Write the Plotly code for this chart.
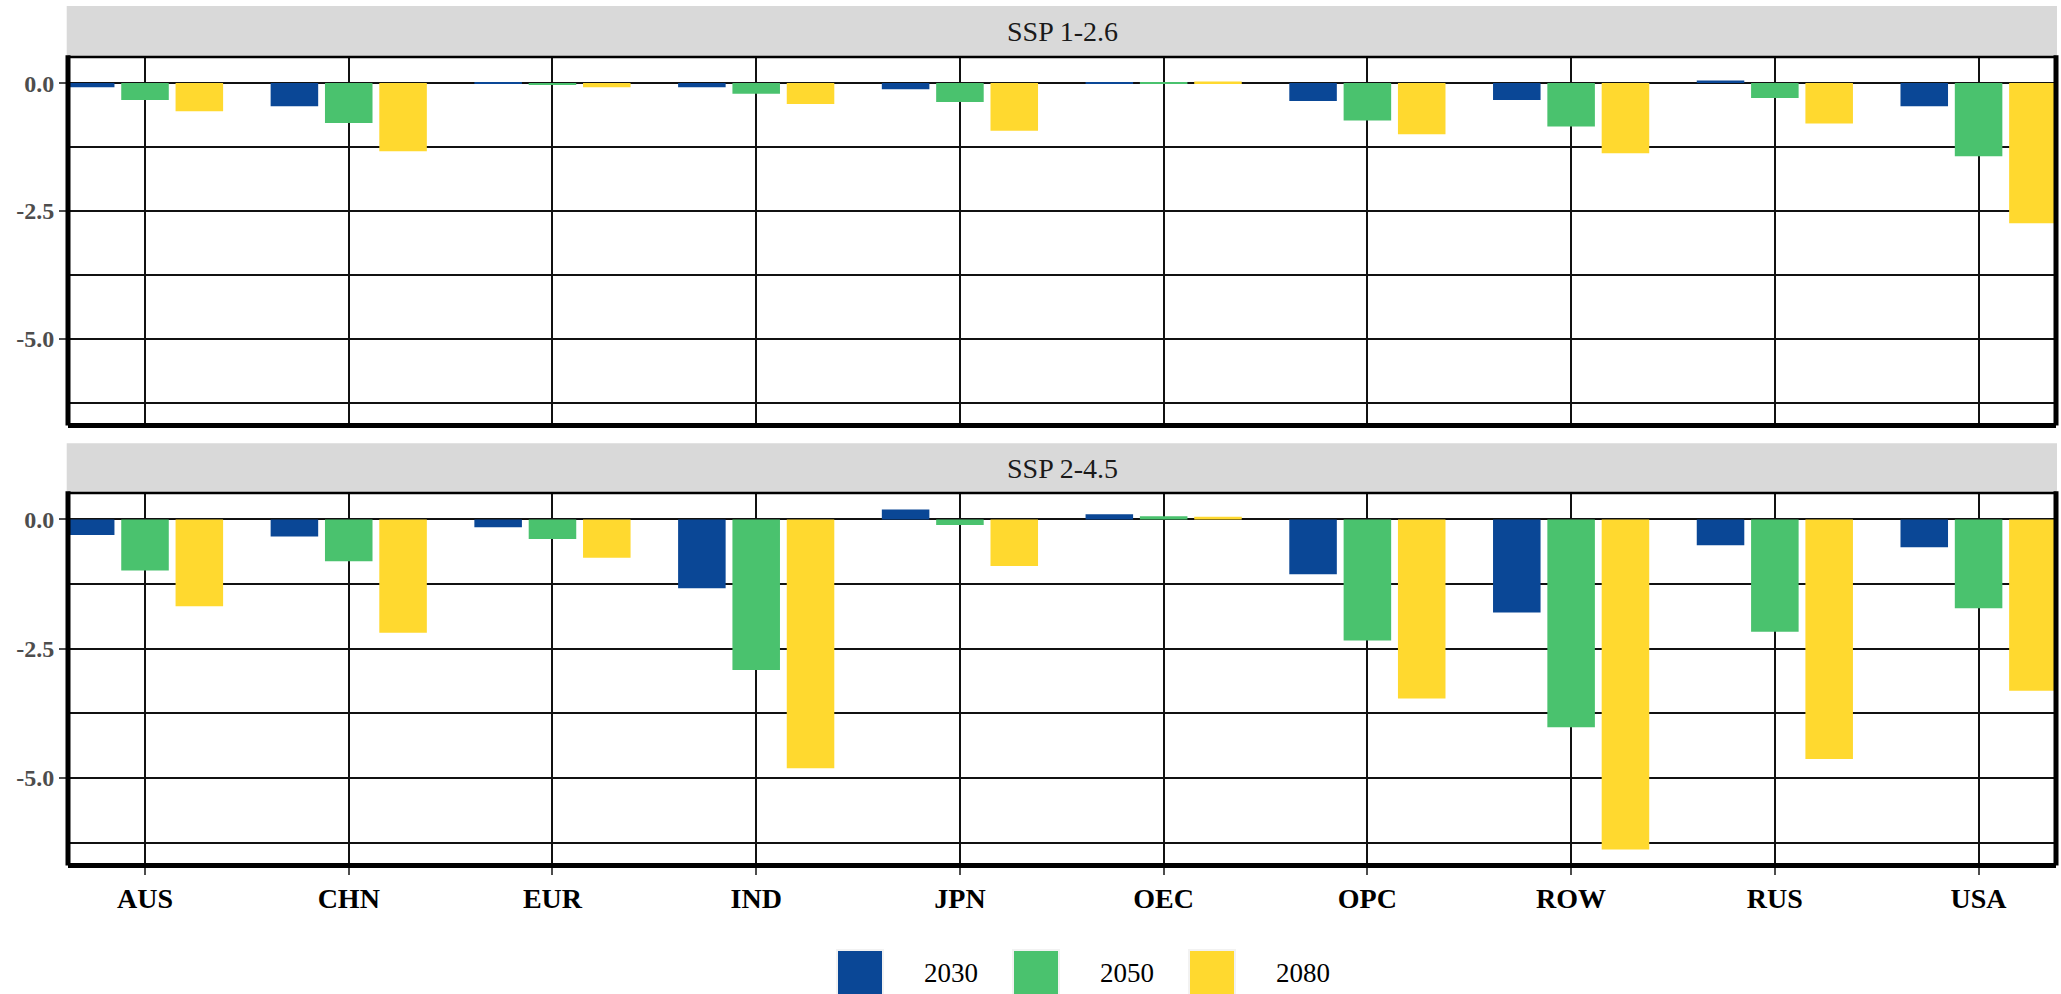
import plotly.graph_objects as go

# --- data -------------------------------------------------------------
REGIONS = ["AUS", "CHN", "EUR", "IND", "JPN", "OEC", "OPC", "ROW", "RUS", "USA"]
YEARS = ["2030", "2050", "2080"]
SCENARIOS = ["SSP 1-2.6", "SSP 2-4.5"]
COLORS = ["#0A4796", "#4AC26E", "#FFD92F"]

ssp126_2030 = [-0.08, -0.45, 0.02, -0.08, -0.12, 0.02, -0.35, -0.33, 0.05, -0.45]
ssp126_2050 = [-0.33, -0.78, -0.02, -0.21, -0.37, 0.02, -0.73, -0.85, -0.29, -1.43]
ssp126_2080 = [-0.55, -1.33, -0.08, -0.41, -0.93, 0.03, -1.00, -1.37, -0.79, -2.74]

ssp245_2030 = [-0.30, -0.33, -0.15, -1.33, 0.19, 0.10, -1.06, -1.80, -0.50, -0.54]
ssp245_2050 = [-0.99, -0.81, -0.38, -2.91, -0.11, 0.06, -2.34, -4.02, -2.17, -1.72]
ssp245_2080 = [-1.68, -2.19, -0.74, -4.81, -0.90, 0.05, -3.46, -6.38, -4.63, -3.31]

Y_TICKS = [-5.0, -2.5, 0.0]
Y_TICK_TEXT = ["-5.0", "-2.5", "0.0"]

panels = [
    [ssp126_2030, ssp126_2050, ssp126_2080],
    [ssp245_2030, ssp245_2050, ssp245_2080],
]

# --- layout geometry (pixels on a 2061 x 994 page) ------------------------
W, H = 2061, 994
FONT = "Liberation Serif"
px_x = lambda v: v / W
px_y = lambda v: 1 - v / H

x_dom = [px_x(68), px_x(2056)]
panel_px = [(57, 425.5), (493, 865.5)]       # top / bottom edges of each panel
strip_px = [(6, 56.7), (443.3, 492.7)]       # facet strip boxes

fig = go.Figure()

for p, series in enumerate(panels):
    xa = "x" if p == 0 else "x2"
    ya = "y" if p == 0 else "y2"
    for year, color, vals in zip(YEARS, COLORS, series):
        fig.add_trace(go.Bar(
            x=REGIONS, y=vals, name=year, marker=dict(color=color, line=dict(width=0)),
            xaxis=xa, yaxis=ya, showlegend=False, offsetgroup=year,
        ))

grid_col = "#111111"
common_x = dict(
    type="category", categoryorder="array", categoryarray=REGIONS,
    range=[-0.378, 9.38], domain=x_dom, showgrid=True, gridcolor=grid_col,
    gridwidth=2, zeroline=False, showline=False, fixedrange=True,
)
common_y = dict(
    range=[-6.69, 0.51], tickvals=Y_TICKS, ticktext=Y_TICK_TEXT,
    showgrid=True, gridcolor=grid_col, gridwidth=2, zeroline=False, showline=False,
    ticks="outside", ticklen=8, tickwidth=2, tickcolor="#4D4D4D",
    tickfont=dict(family=FONT, size=24, color="#4D4D4D", weight="bold"),
    minor=dict(tick0=0, dtick=1.25, showgrid=True, gridcolor=grid_col, gridwidth=2, ticks=""),
)

fig.update_layout(
    width=W, height=H, margin=dict(l=0, r=0, t=0, b=0),
    paper_bgcolor="white", plot_bgcolor="white",
    barmode="group", bargap=0.2, bargroupgap=0.125,
    font=dict(family=FONT),
    xaxis=dict(common_x, anchor="y", showticklabels=False, ticks=""),
    xaxis2=dict(common_x, anchor="y2", ticks="outside", ticklen=8, tickwidth=2,
                tickcolor="#4D4D4D",
                tickfont=dict(family=FONT, size=28, color="black", weight="bold")),
    yaxis=dict(common_y, anchor="x", domain=[px_y(panel_px[0][1]), px_y(panel_px[0][0])]),
    yaxis2=dict(common_y, anchor="x2", domain=[px_y(panel_px[1][1]), px_y(panel_px[1][0])]),
)

shapes = []
annotations = []

# facet strips
for (top, bot), label in zip(strip_px, SCENARIOS):
    shapes.append(dict(type="rect", xref="paper", yref="paper",
                       x0=px_x(66.7), x1=px_x(2057), y0=px_y(bot), y1=px_y(top),
                       fillcolor="#D9D9D9", line=dict(width=0), layer="below"))
    annotations.append(dict(text=label, xref="paper", yref="paper",
                            x=(x_dom[0] + x_dom[1]) / 2, y=px_y((top + bot) / 2),
                            xanchor="center", yanchor="middle", showarrow=False,
                            font=dict(family=FONT, size=28, color="#1A1A1A")))

# panel borders: thin top, heavy left / bottom / right
for xr, yr in [("x domain", "y domain"), ("x2 domain", "y2 domain")]:
    shapes.append(dict(type="line", xref=xr, yref=yr, x0=0, x1=1, y0=1, y1=1,
                       line=dict(color="black", width=2.5)))
    for x0, x1, y0, y1 in [(0, 0, 0, 1.005), (0, 1, 0, 0), (1, 1, 0, 1.005)]:
        shapes.append(dict(type="line", xref=xr, yref=yr, x0=x0, x1=x1, y0=y0, y1=y1,
                           line=dict(color="black", width=5)))

# legend keys below the panels
key_left = [837, 1013, 1189]
for year, color, kx in zip(YEARS, COLORS, key_left):
    shapes.append(dict(type="rect", xref="paper", yref="paper",
                       x0=px_x(kx), x1=px_x(kx + 46), y0=px_y(1000), y1=px_y(950),
                       fillcolor=color, line=dict(color="#F2F2F2", width=2)))
    annotations.append(dict(text=year, xref="paper", yref="paper",
                            x=px_x(kx + 85), y=px_y(973), xanchor="left", yanchor="middle",
                            showarrow=False, font=dict(family=FONT, size=27, color="black")))

fig.update_layout(shapes=shapes, annotations=annotations)

fig.write_html("out.html")
